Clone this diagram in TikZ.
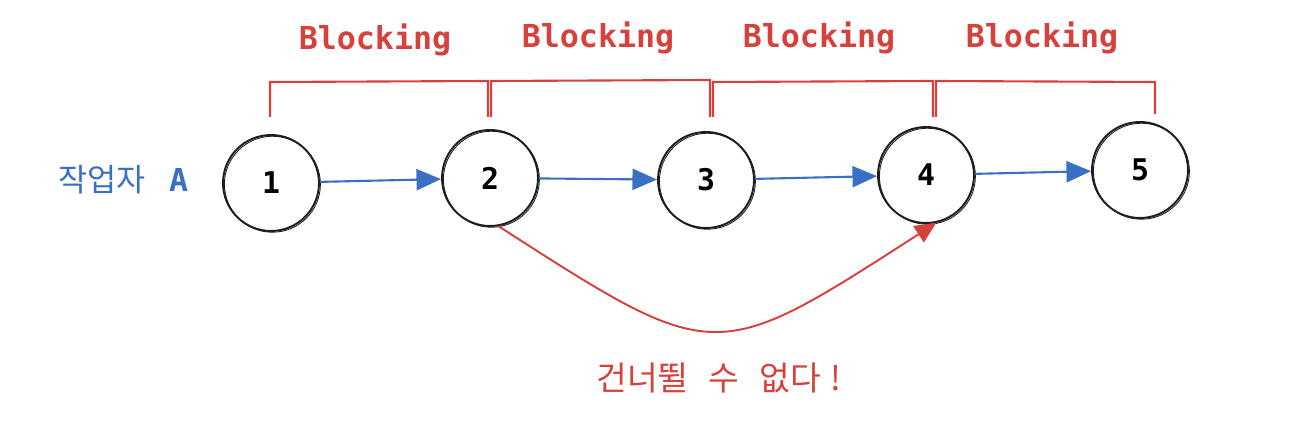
\documentclass[tikz,border=0pt]{standalone}
\usepackage{fontspec}
\setmonofont{DejaVu Sans Mono}
\newfontfamily\kofont{Noto Sans CJK KR}
\usetikzlibrary{arrows.meta}

\definecolor{sketchred}{HTML}{D6413B}
\definecolor{sketchblue}{HTML}{3A70C4}
\definecolor{sketchink}{HTML}{1E1E1E}

\tikzset{
  task/.style={circle, draw=sketchink, line width=1.1pt, inner sep=0pt,
    minimum size=1.92cm, font=\ttfamily\bfseries\fontsize{17}{17}\selectfont,
    postaction={draw=sketchink, line width=0.5pt,
      transform canvas={shift={(0.8pt,-0.7pt)}}}},
  flow/.style={draw=sketchblue, line width=1.2pt,
    -{Triangle[length=14pt,width=12pt]}},
  skip/.style={draw=sketchred, line width=1.1pt,
    -{Triangle[length=12pt,width=11pt]}},
  bracket/.style={draw=sketchred, line width=1.2pt},
  blocklabel/.style={text=sketchred, font=\ttfamily\bfseries\fontsize{18}{18}\selectfont},
}

\begin{document}
\begin{tikzpicture}[x=0.02cm,y=-0.02cm]

\useasboundingbox (0,0) rectangle (1294,422);

% Tasks
\node[task] (n1) at (271,183) {1};
\node[task] (n2) at (490,178) {2};
\node[task] (n3) at (706,180) {3};
\node[task] (n4) at (926,175) {4};
\node[task] (n5) at (1140,170) {5};

% Worker label
\node[text=sketchblue, font=\kofont\fontsize{18}{18}\selectfont, anchor=west]
  (worker) at (52,180) {작업자\hspace{0.75em}{\ttfamily\bfseries A}};

% Flow between tasks
\draw[flow] (n1) -- (n2);
\draw[flow] (n2) -- (n3);
\draw[flow] (n3) -- (n4);
\draw[flow] (n4) -- (n5);

% Blocking brackets
\draw[bracket] (270,117) -- (270,82) -- (488,81) -- (488,117);
\draw[bracket] (491,117) -- (491,81) -- (710,80) -- (710,117);
\draw[bracket] (713,117) -- (713,82) -- (933,81) -- (933,117);
\draw[bracket] (936,117) -- (936,81) -- (1155,82) -- (1155,114);

% Blocking labels
\node[blocklabel] (b1) at (375,40) {Blocking};
\node[blocklabel] (b2) at (598,38) {Blocking};
\node[blocklabel] (b3) at (819,38) {Blocking};
\node[blocklabel] (b4) at (1042,38) {Blocking};

% Skip attempt
\draw[skip] (n2.-80) .. controls (716,366) and (714,366) .. (n4.-78);
\node[text=sketchred, font=\kofont\fontsize{19}{19}\selectfont]
  (noskip) at (719,378) {건너뛸\hspace{0.6em}수\hspace{0.6em}없다\hspace{0.3em}!};

\end{tikzpicture}
\end{document}
